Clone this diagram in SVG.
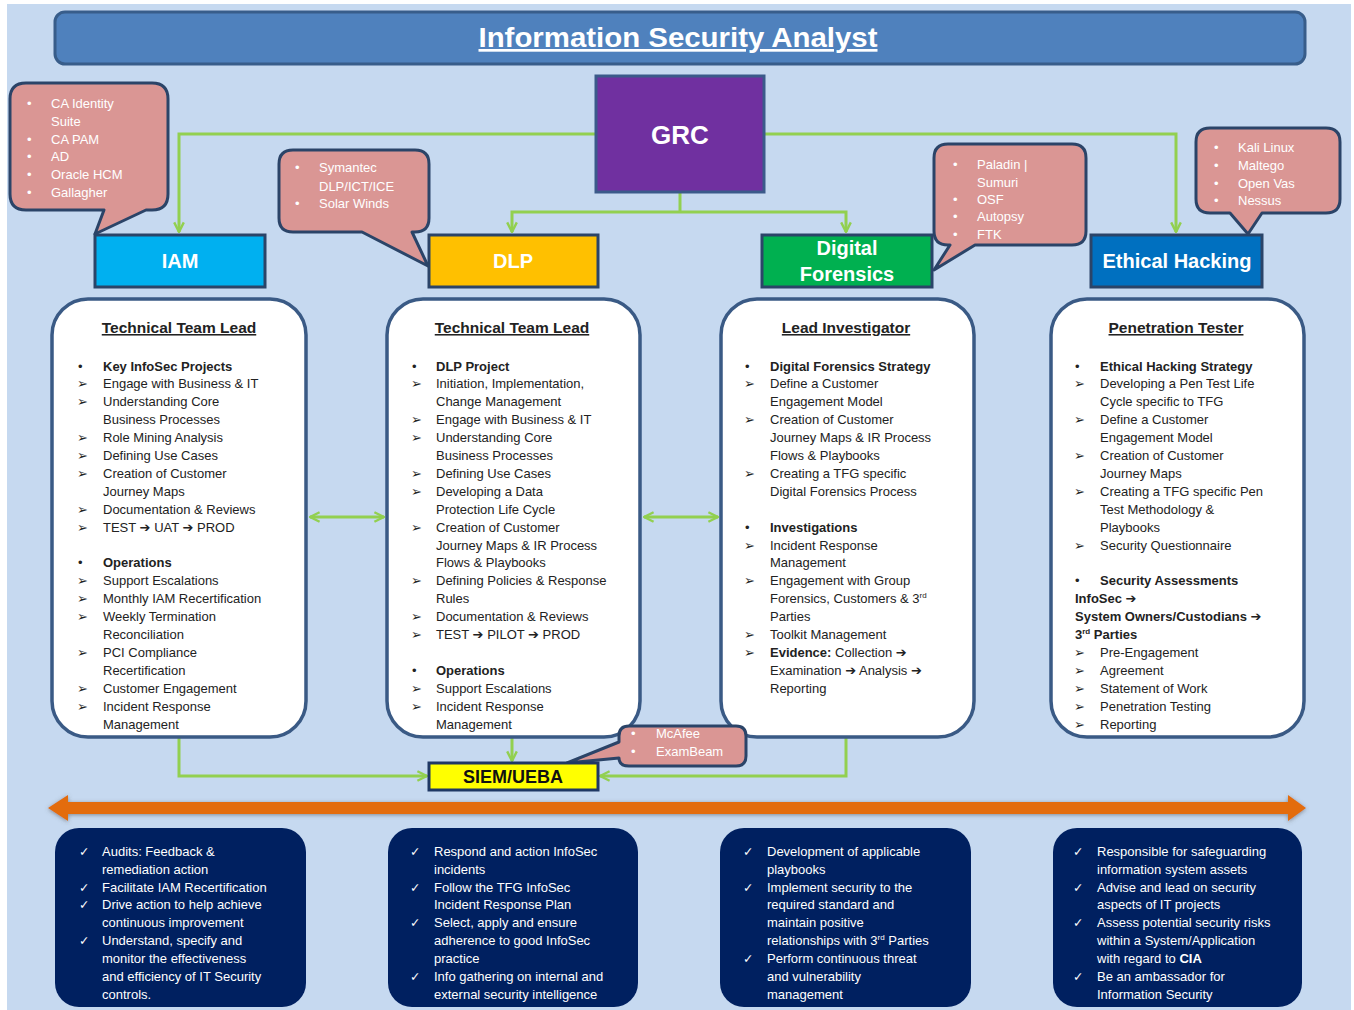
<svg xmlns="http://www.w3.org/2000/svg" width="1354" height="1010" viewBox="0 0 1354 1010">
<style>
.t{font-family:"Liberation Sans",Arial,sans-serif;font-size:13px;fill:#222}
.w{fill:#fff}
.b{font-weight:bold}
.s{font-family:"DejaVu Sans",sans-serif;font-size:13px;font-weight:bold}
.ck{font-family:"DejaVu Sans",sans-serif;font-size:12.5px}
.ar{font-family:"DejaVu Sans",sans-serif;font-size:13px}
.hd{font-family:"Liberation Sans",Arial,sans-serif;font-size:15.5px;font-weight:bold;fill:#222;text-decoration:underline;text-anchor:middle}
.nl{font-family:"Liberation Sans",Arial,sans-serif;font-size:20px;font-weight:bold;fill:#fff;text-anchor:middle}
.co{fill:#da9694;stroke:#2b4468;stroke-width:3;stroke-linejoin:round}
.col{fill:#fff;stroke:#3a5a85;stroke-width:3.5}
.bot{fill:#002060}
.g{fill:none;stroke:#92d050;stroke-width:3}
.nb{stroke:#2b4468;stroke-width:3}
</style>
<defs>
<marker id="ga" viewBox="0 0 10 10" refX="9" refY="5" markerWidth="12" markerHeight="12" markerUnits="userSpaceOnUse" orient="auto-start-reverse">
<path d="M1,1 L9,5 L1,9" fill="none" stroke="#92d050" stroke-width="2"/>
</marker>
<filter id="sh" x="-5%" y="-50%" width="110%" height="200%">
<feDropShadow dx="0" dy="1" stdDeviation="2" flood-color="#555" flood-opacity="0.6"/>
</filter>
</defs>
<rect x="0" y="0" width="1354" height="1010" fill="#fff"/>
<rect x="7" y="4" width="1344" height="1006" fill="#c6d9f0"/>

<g id="title">
<rect x="55" y="12" width="1250" height="52" rx="10" fill="#4f81bd" stroke="#385d8a" stroke-width="3"/>
<text x="678" y="47" font-family="Liberation Sans,Arial,sans-serif" font-size="27" font-weight="bold" fill="#fff" text-anchor="middle" text-decoration="underline" textLength="399" lengthAdjust="spacingAndGlyphs">Information Security Analyst</text>
</g>

<g id="connectors">
<path class="g" d="M596,134 H179 V232" marker-end="url(#ga)"/>
<path class="g" d="M764,134 H1176 V232" marker-end="url(#ga)"/>
<path class="g" d="M680,192 V212"/>
<path class="g" d="M512,232 V212 H846 V232" marker-start="url(#ga)" marker-end="url(#ga)"/>
<path class="g" d="M310,517 H384" marker-start="url(#ga)" marker-end="url(#ga)"/>
<path class="g" d="M644,517 H718" marker-start="url(#ga)" marker-end="url(#ga)"/>
<path class="g" d="M179,738 V776 H427" marker-end="url(#ga)"/>
<path class="g" d="M512,738 V761" marker-end="url(#ga)"/>
<path class="g" d="M846,738 V776 H600" marker-end="url(#ga)"/>
</g>

<g id="grc">
<rect x="596" y="76" width="168" height="116" fill="#7030a0" stroke="#3b5a8a" stroke-width="3"/>
<text x="680" y="144" font-family="Liberation Sans,Arial,sans-serif" font-size="26" font-weight="bold" fill="#fff" text-anchor="middle">GRC</text>
</g>

<g id="iam">
<rect x="95" y="235" width="170" height="52" fill="#00b0f0" class="nb"/>
<text class="nl" x="180" y="268">IAM</text>
</g>
<g id="dlp">
<rect x="429" y="235" width="169" height="52" fill="#ffc000" class="nb"/>
<text class="nl" x="513" y="268">DLP</text>
</g>
<g id="digital-forensics">
<rect x="762" y="235" width="170" height="52" fill="#00b050" class="nb"/>
<text class="nl" x="847" y="255">Digital</text>
<text class="nl" x="847" y="281">Forensics</text>
</g>
<g id="ethical-hacking">
<rect x="1091" y="235" width="171" height="52" fill="#0070c0" class="nb"/>
<text class="nl" x="1177" y="268">Ethical Hacking</text>
</g>

<g id="callout-iam">
<path class="co" d="M26,83 H152 Q168,83 168,99 V194 Q168,210 152,210 H146 L95,234 L104,210 H26 Q10,210 10,194 V99 Q10,83 26,83 Z"/>
<g class="t w">
<text x="27" y="108">•</text><text x="51" y="108">CA Identity</text>
<text x="51" y="126">Suite</text>
<text x="27" y="144">•</text><text x="51" y="144">CA PAM</text>
<text x="27" y="161">•</text><text x="51" y="161">AD</text>
<text x="27" y="179">•</text><text x="51" y="179">Oracle HCM</text>
<text x="27" y="197">•</text><text x="51" y="197">Gallagher</text>
</g>
</g>

<g id="callout-dlp">
<path class="co" d="M293,150 H415 Q429,150 429,164 V218 Q429,232 415,232 H412 L428,266 L362,232 H293 Q279,232 279,218 V164 Q279,150 293,150 Z"/>
<g class="t w">
<text x="295" y="172">•</text><text x="319" y="172">Symantec</text>
<text x="319" y="191">DLP/ICT/ICE</text>
<text x="295" y="208">•</text><text x="319" y="208">Solar Winds</text>
</g>
</g>

<g id="callout-df">
<path class="co" d="M948,144 H1072 Q1086,144 1086,158 V231 Q1086,245 1072,245 H975 L934,270 L950,245 H948 Q934,245 934,231 V158 Q934,144 948,144 Z"/>
<g class="t w">
<text x="953" y="169">•</text><text x="977" y="169">Paladin |</text>
<text x="977" y="187">Sumuri</text>
<text x="953" y="204">•</text><text x="977" y="204">OSF</text>
<text x="953" y="221">•</text><text x="977" y="221">Autopsy</text>
<text x="953" y="239">•</text><text x="977" y="239">FTK</text>
</g>
</g>

<g id="callout-eh">
<path class="co" d="M1210,128 H1326 Q1340,128 1340,142 V199 Q1340,213 1326,213 H1262 L1248,234 L1230,213 H1210 Q1196,213 1196,199 V142 Q1196,128 1210,128 Z"/>
<g class="t w">
<text x="1214" y="152">•</text><text x="1238" y="152">Kali Linux</text>
<text x="1214" y="170">•</text><text x="1238" y="170">Maltego</text>
<text x="1214" y="188">•</text><text x="1238" y="188">Open Vas</text>
<text x="1214" y="205">•</text><text x="1238" y="205">Nessus</text>
</g>
</g>

<g id="col-iam">
<rect class="col" x="52" y="299" width="254" height="438" rx="36"/>
<text class="hd" x="179" y="333">Technical  Team Lead</text>
<g class="t">
<text x="78" y="370.5">•</text><text class="b" x="103" y="370.5">Key InfoSec Projects</text>
<text class="ar" x="77" y="388.4">➢</text><text x="103" y="388.4">Engage with Business &amp; IT</text>
<text class="ar" x="77" y="406.3">➢</text><text x="103" y="406.3">Understanding Core</text>
<text x="103" y="424.2">Business Processes</text>
<text class="ar" x="77" y="442.1">➢</text><text x="103" y="442.1">Role Mining Analysis</text>
<text class="ar" x="77" y="460">➢</text><text x="103" y="460">Defining Use Cases</text>
<text class="ar" x="77" y="477.9">➢</text><text x="103" y="477.9">Creation of Customer</text>
<text x="103" y="495.8">Journey Maps</text>
<text class="ar" x="77" y="513.7">➢</text><text x="103" y="513.7">Documentation &amp; Reviews</text>
<text class="ar" x="77" y="531.6">➢</text><text x="103" y="531.6">TEST <tspan class="s">➔</tspan> UAT <tspan class="s">➔</tspan> PROD</text>
<text x="78" y="567.4">•</text><text class="b" x="103" y="567.4">Operations</text>
<text class="ar" x="77" y="585.3">➢</text><text x="103" y="585.3">Support Escalations</text>
<text class="ar" x="77" y="603.2">➢</text><text x="103" y="603.2">Monthly IAM Recertification</text>
<text class="ar" x="77" y="621.1">➢</text><text x="103" y="621.1">Weekly Termination</text>
<text x="103" y="639">Reconciliation</text>
<text class="ar" x="77" y="656.9">➢</text><text x="103" y="656.9">PCI Compliance</text>
<text x="103" y="674.8">Recertification</text>
<text class="ar" x="77" y="692.7">➢</text><text x="103" y="692.7">Customer Engagement</text>
<text class="ar" x="77" y="710.6">➢</text><text x="103" y="710.6">Incident Response</text>
<text x="103" y="728.5">Management</text>
</g>
</g>

<g id="col-dlp">
<rect class="col" x="387" y="299" width="253" height="438" rx="36"/>
<text class="hd" x="512" y="333">Technical  Team Lead</text>
<g class="t">
<text x="412" y="370.5">•</text><text class="b" x="436" y="370.5">DLP Project</text>
<text class="ar" x="411" y="388.4">➢</text><text x="436" y="388.4">Initiation, Implementation,</text>
<text x="436" y="406.3">Change Management</text>
<text class="ar" x="411" y="424.2">➢</text><text x="436" y="424.2">Engage with Business &amp; IT</text>
<text class="ar" x="411" y="442.1">➢</text><text x="436" y="442.1">Understanding Core</text>
<text x="436" y="460">Business Processes</text>
<text class="ar" x="411" y="477.9">➢</text><text x="436" y="477.9">Defining Use Cases</text>
<text class="ar" x="411" y="495.8">➢</text><text x="436" y="495.8">Developing  a Data</text>
<text x="436" y="513.7">Protection Life Cycle</text>
<text class="ar" x="411" y="531.6">➢</text><text x="436" y="531.6">Creation of Customer</text>
<text x="436" y="549.5">Journey Maps &amp; IR Process</text>
<text x="436" y="567.4">Flows &amp; Playbooks</text>
<text class="ar" x="411" y="585.3">➢</text><text x="436" y="585.3">Defining Policies &amp; Response</text>
<text x="436" y="603.2">Rules</text>
<text class="ar" x="411" y="621.1">➢</text><text x="436" y="621.1">Documentation &amp; Reviews</text>
<text class="ar" x="411" y="639">➢</text><text x="436" y="639">TEST <tspan class="s">➔</tspan> PILOT <tspan class="s">➔</tspan> PROD</text>
<text x="412" y="674.8">•</text><text class="b" x="436" y="674.8">Operations</text>
<text class="ar" x="411" y="692.7">➢</text><text x="436" y="692.7">Support Escalations</text>
<text class="ar" x="411" y="710.6">➢</text><text x="436" y="710.6">Incident Response</text>
<text x="436" y="728.5">Management</text>
</g>
</g>

<g id="col-df">
<rect class="col" x="721" y="299" width="253" height="438" rx="36"/>
<text class="hd" x="846" y="333">Lead Investigator</text>
<g class="t">
<text x="745" y="370.5">•</text><text class="b" x="770" y="370.5">Digital Forensics Strategy</text>
<text class="ar" x="744" y="388.4">➢</text><text x="770" y="388.4">Define a Customer</text>
<text x="770" y="406.3">Engagement Model</text>
<text class="ar" x="744" y="424.2">➢</text><text x="770" y="424.2">Creation of Customer</text>
<text x="770" y="442.1">Journey Maps &amp; IR Process</text>
<text x="770" y="460">Flows &amp; Playbooks</text>
<text class="ar" x="744" y="477.9">➢</text><text x="770" y="477.9">Creating a TFG specific</text>
<text x="770" y="495.8">Digital Forensics Process</text>
<text x="745" y="531.6">•</text><text class="b" x="770" y="531.6">Investigations</text>
<text class="ar" x="744" y="549.5">➢</text><text x="770" y="549.5">Incident Response</text>
<text x="770" y="567.4">Management</text>
<text class="ar" x="744" y="585.3">➢</text><text x="770" y="585.3">Engagement with Group</text>
<text x="770" y="603.2">Forensics, Customers &amp; 3<tspan font-size="8" dy="-5">rd</tspan></text>
<text x="770" y="621.1">Parties</text>
<text class="ar" x="744" y="639">➢</text><text x="770" y="639">Toolkit Management</text>
<text class="ar" x="744" y="656.9">➢</text><text x="770" y="656.9"><tspan class="b">Evidence:</tspan> Collection <tspan class="s">➔</tspan></text>
<text x="770" y="674.8">Examination <tspan class="s">➔</tspan> Analysis <tspan class="s">➔</tspan></text>
<text x="770" y="692.7">Reporting</text>
</g>
</g>

<g id="col-eh">
<rect class="col" x="1051" y="299" width="253" height="438" rx="36" stroke="#1f3864"/>
<text class="hd" x="1176" y="333">Penetration Tester</text>
<g class="t">
<text x="1075" y="370.5">•</text><text class="b" x="1100" y="370.5">Ethical Hacking Strategy</text>
<text class="ar" x="1074" y="388.4">➢</text><text x="1100" y="388.4">Developing a Pen Test Life</text>
<text x="1100" y="406.3">Cycle specific to TFG</text>
<text class="ar" x="1074" y="424.2">➢</text><text x="1100" y="424.2">Define a Customer</text>
<text x="1100" y="442.1">Engagement Model</text>
<text class="ar" x="1074" y="460">➢</text><text x="1100" y="460">Creation of Customer</text>
<text x="1100" y="477.9">Journey Maps</text>
<text class="ar" x="1074" y="495.8">➢</text><text x="1100" y="495.8">Creating a TFG specific  Pen</text>
<text x="1100" y="513.7">Test Methodology &amp;</text>
<text x="1100" y="531.6">Playbooks</text>
<text class="ar" x="1074" y="549.5">➢</text><text x="1100" y="549.5">Security Questionnaire</text>
<text x="1075" y="585.3">•</text><text class="b" x="1100" y="585.3">Security Assessments</text>
<text class="b" x="1075" y="603.2">InfoSec <tspan class="s">➔</tspan></text>
<text class="b" x="1075" y="621.1">System Owners/Custodians <tspan class="s">➔</tspan></text>
<text class="b" x="1075" y="639">3<tspan font-size="8" dy="-5">rd</tspan><tspan dy="5"> Parties</tspan></text>
<text class="ar" x="1074" y="656.9">➢</text><text x="1100" y="656.9">Pre-Engagement</text>
<text class="ar" x="1074" y="674.8">➢</text><text x="1100" y="674.8">Agreement</text>
<text class="ar" x="1074" y="692.7">➢</text><text x="1100" y="692.7">Statement of Work</text>
<text class="ar" x="1074" y="710.6">➢</text><text x="1100" y="710.6">Penetration Testing</text>
<text class="ar" x="1074" y="728.5">➢</text><text x="1100" y="728.5">Reporting</text>
</g>
</g>

<g id="callout-siem">
<path class="co" d="M629,726 H736 Q746,726 746,736 V756 Q746,766 736,766 H629 Q619,766 619,758 L567,763 L619,742 V736 Q619,726 629,726 Z"/>
<g class="t w">
<text x="631" y="738">•</text><text x="656" y="738">McAfee</text>
<text x="631" y="756">•</text><text x="656" y="756">ExamBeam</text>
</g>
</g>

<g id="siem">
<rect x="429" y="763" width="169" height="27" fill="#ffff00" stroke="#1f3864" stroke-width="3"/>
<text x="513" y="783" font-family="Liberation Sans,Arial,sans-serif" font-size="18" font-weight="bold" fill="#111" text-anchor="middle">SIEM/UEBA</text>
</g>

<g id="timeline">
<polygon points="48,808 68,795 68,802 1288,802 1288,795 1306,808 1288,821 1288,814 68,814 68,821" fill="#e36c09" filter="url(#sh)"/>
</g>

<g id="duty-iam">
<rect class="bot" x="55" y="828" width="251" height="179" rx="24"/>
<g class="t w">
<text class="ck" x="79" y="856">✓</text><text x="102" y="856">Audits: Feedback &amp;</text>
<text x="102" y="874">remediation action</text>
<text class="ck" x="79" y="892">✓</text><text x="102" y="892">Facilitate IAM Recertification</text>
<text class="ck" x="79" y="909">✓</text><text x="102" y="909">Drive action to help achieve</text>
<text x="102" y="927">continuous improvement</text>
<text class="ck" x="79" y="945">✓</text><text x="102" y="945">Understand, specify and</text>
<text x="102" y="963">monitor the effectiveness</text>
<text x="102" y="981">and efficiency of IT Security</text>
<text x="102" y="999">controls.</text>
</g>
</g>

<g id="duty-dlp">
<rect class="bot" x="388" y="828" width="250" height="179" rx="24"/>
<g class="t w">
<text class="ck" x="410" y="856">✓</text><text x="434" y="856">Respond and action InfoSec</text>
<text x="434" y="874">incidents</text>
<text class="ck" x="410" y="892">✓</text><text x="434" y="892">Follow the TFG InfoSec</text>
<text x="434" y="909">Incident Response Plan</text>
<text class="ck" x="410" y="927">✓</text><text x="434" y="927">Select, apply and ensure</text>
<text x="434" y="945">adherence to good InfoSec</text>
<text x="434" y="963">practice</text>
<text class="ck" x="410" y="981">✓</text><text x="434" y="981">Info gathering on internal and</text>
<text x="434" y="999">external security intelligence</text>
</g>
</g>

<g id="duty-df">
<rect class="bot" x="720" y="828" width="251" height="179" rx="24"/>
<g class="t w">
<text class="ck" x="743" y="856">✓</text><text x="767" y="856">Development of applicable</text>
<text x="767" y="874">playbooks</text>
<text class="ck" x="743" y="892">✓</text><text x="767" y="892">Implement security to the</text>
<text x="767" y="909">required standard and</text>
<text x="767" y="927">maintain positive</text>
<text x="767" y="945">relationships with 3<tspan font-size="8" dy="-5">rd</tspan><tspan dy="5"> Parties</tspan></text>
<text class="ck" x="743" y="963">✓</text><text x="767" y="963">Perform continuous threat</text>
<text x="767" y="981">and vulnerability</text>
<text x="767" y="999">management</text>
</g>
</g>

<g id="duty-eh">
<rect class="bot" x="1053" y="828" width="249" height="179" rx="24"/>
<g class="t w">
<text class="ck" x="1073" y="856">✓</text><text x="1097" y="856">Responsible for safeguarding</text>
<text x="1097" y="874">information system assets</text>
<text class="ck" x="1073" y="892">✓</text><text x="1097" y="892">Advise and lead on security</text>
<text x="1097" y="909">aspects of IT projects</text>
<text class="ck" x="1073" y="927">✓</text><text x="1097" y="927">Assess potential security risks</text>
<text x="1097" y="945">within a System/Application</text>
<text x="1097" y="963">with regard to <tspan class="b">CIA</tspan></text>
<text class="ck" x="1073" y="981">✓</text><text x="1097" y="981">Be an ambassador for</text>
<text x="1097" y="999">Information Security</text>
</g>
</g>
</svg>
